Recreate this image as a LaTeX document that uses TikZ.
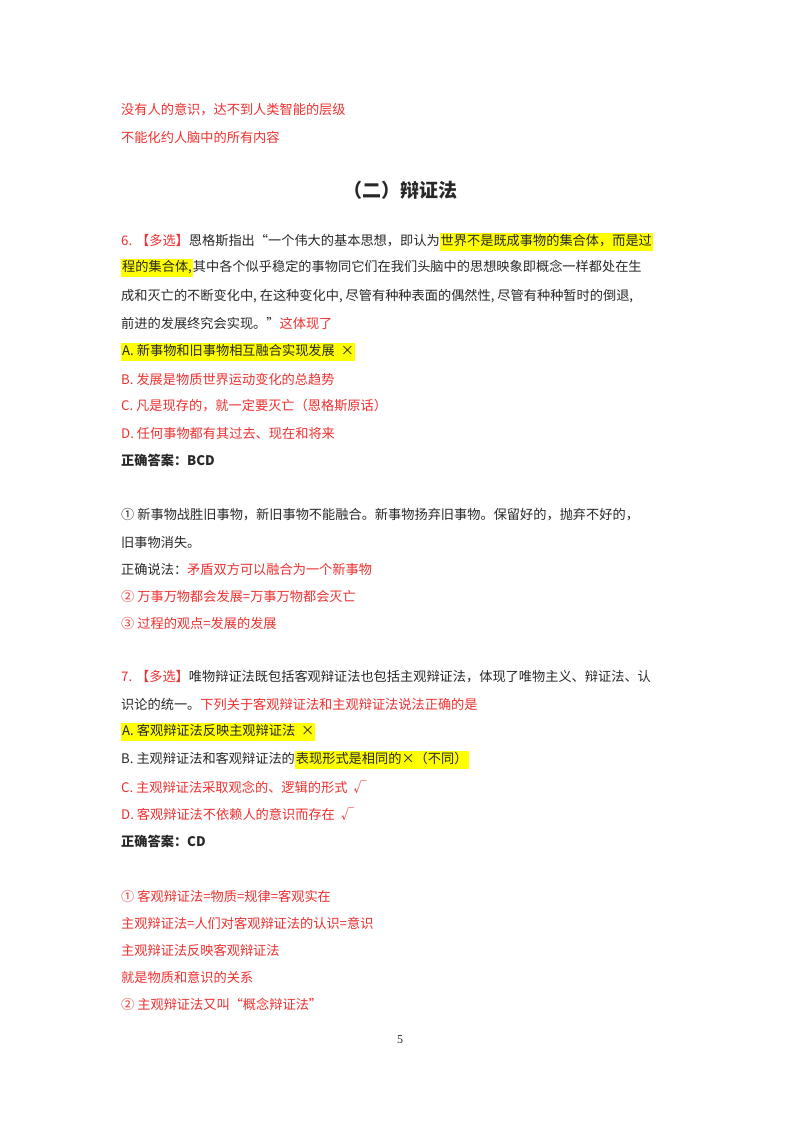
\documentclass[tikz,border=0pt]{standalone}
\usepackage{fontspec}
\setmainfont{Noto Sans CJK SC}
\newfontfamily\serifnum{Liberation Serif}
\definecolor{rd}{RGB}{238,48,48}
\definecolor{tx}{RGB}{40,40,40}
\definecolor{hy}{RGB}{255,255,0}
\newcommand{\hl}[1]{{\setlength\fboxsep{1pt}\colorbox{hy}{\strut #1}}}
\tikzset{ln/.style={anchor=west,inner sep=0pt,text=tx,font=\fontsize{13.2}{16}\selectfont},
 rl/.style={ln,text=rd}}
\begin{document}
\begin{tikzpicture}[x=1pt,y=-1pt]
\useasboundingbox[fill=white] (0,0) rectangle (800,1132);
\node[rl] (l1) at (121,110) {没有人的意识，达不到人类智能的层级};
\node[rl] (l2) at (121,137) {不能化约人脑中的所有内容};
\node[anchor=center,text=tx,font=\fontsize{19}{22}\selectfont\bfseries] (t) at (400,190) {（二）辩证法};
\node[ln] (q1) at (121,242) {\textcolor{rd}{6. 【多选】}恩格斯指出“一个伟大的基本思想，即认为\hl{世界不是既成事物的集合体，而是过}};
\node[ln] (q2) at (121,268) {\hl{程的集合体,}其中各个似乎稳定的事物同它们在我们头脑中的思想映象即概念一样都处在生};
\node[ln] (q3) at (121,296) {成和灭亡的不断变化中, 在这种变化中, 尽管有种种表面的偶然性, 尽管有种种暂时的倒退,};
\node[ln] (q4) at (121,323) {前进的发展终究会实现。”\textcolor{rd}{这体现了}};
\node[ln] (a1) at (121,352) {\hl{A.\ 新事物和旧事物相互融合实现发展 \ ×}};
\node[rl] (b1) at (121,379) {B.\ 发展是物质世界运动变化的总趋势};
\node[rl] (c1) at (121,406) {C.\ 凡是现存的，就一定要灭亡（恩格斯原话）};
\node[rl] (d1) at (121,433) {D.\ 任何事物都有其过去、现在和将来};
\node[ln,font=\fontsize{13.2}{16}\selectfont\bfseries] (k1) at (121,460) {正确答案：BCD};
\node[ln] (n1) at (121,515) {①\ 新事物战胜旧事物，新旧事物不能融合。新事物扬弃旧事物。保留好的，抛弃不好的，};
\node[ln] (n2) at (121,542) {旧事物消失。};
\node[ln] (n3) at (121,569) {正确说法：\textcolor{rd}{矛盾双方可以融合为一个新事物}};
\node[rl] (n4) at (121,596) {②\ 万事万物都会发展=万事万物都会灭亡};
\node[rl] (n5) at (121,623) {③\ 过程的观点=发展的发展};
\node[ln] (p1) at (121,677) {\textcolor{rd}{7. 【多选】}唯物辩证法既包括客观辩证法也包括主观辩证法，体现了唯物主义、辩证法、认};
\node[ln] (p2) at (121,704) {识论的统一。\textcolor{rd}{下列关于客观辩证法和主观辩证法说法正确的是}};
\node[ln] (a2) at (121,732) {\hl{A.\ 客观辩证法反映主观辩证法 \ ×}};
\node[ln] (b2) at (121,760) {B.\ 主观辩证法和客观辩证法的\hl{表现形式是相同的×（不同）}};
\node[rl] (c2) at (121,787) {C.\ 主观辩证法采取观念的、逻辑的形式 \ √};
\node[rl] (d2) at (121,814) {D.\ 客观辩证法不依赖人的意识而存在 \ √};
\node[ln,font=\fontsize{13.2}{16}\selectfont\bfseries] (k2) at (121,841) {正确答案：CD};
\node[rl] (m1) at (121,896) {①\ 客观辩证法=物质=规律=客观实在};
\node[rl] (m2) at (121,923) {主观辩证法=人们对客观辩证法的认识=意识};
\node[rl] (m3) at (121,950) {主观辩证法反映客观辩证法};
\node[rl] (m4) at (121,977) {就是物质和意识的关系};
\node[rl] (m5) at (121,1004) {②\ 主观辩证法又叫“概念辩证法”};
\node[anchor=center,text=tx,font=\serifnum\fontsize{12}{14}\selectfont] (pg) at (400,1040) {5};
\end{tikzpicture}
\end{document}
